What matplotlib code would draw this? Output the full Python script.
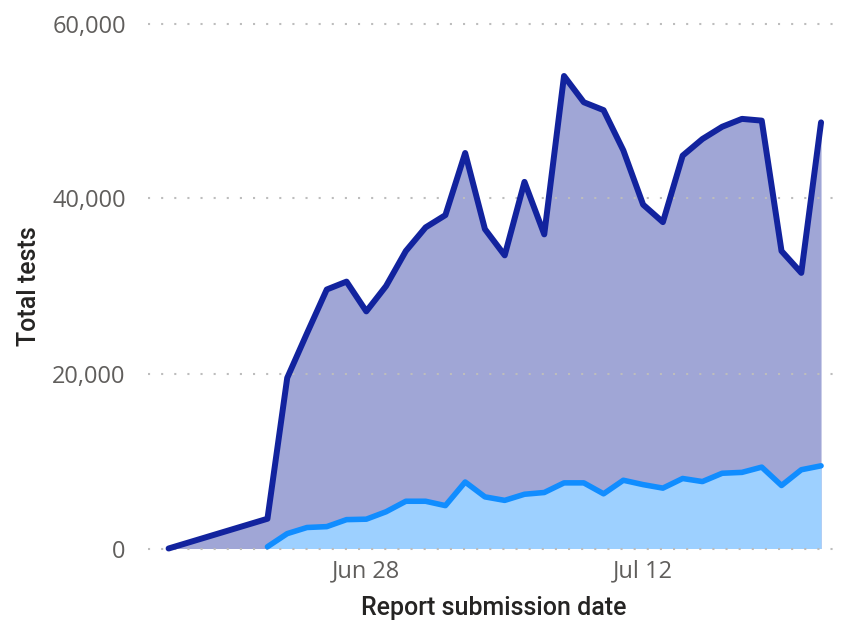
import matplotlib
matplotlib.use("Agg")
import matplotlib.pyplot as plt
import pandas as pd
from matplotlib.ticker import FuncFormatter

# data
total_dates = ["2020-06-18"] + [str(d.date()) for d in pd.date_range("2020-06-23", "2020-07-21")]
total_tests = [0, 3400, 19500, 24600, 29600, 30500, 27100, 30000, 34000, 36700,
               38100, 45200, 36500, 33500, 41900, 35900, 54000, 51000, 50100, 45500,
               39300, 37300, 44900, 46800, 48200, 49100, 48900, 34000, 31500, 48700]

pos_dates = [str(d.date()) for d in pd.date_range("2020-06-23", "2020-07-21")]
pos_tests = [200, 1700, 2400, 2500, 3300, 3350, 4200, 5400, 5400, 4900,
             7600, 5900, 5500, 6200, 6400, 7500, 7500, 6250, 7800, 7300,
             6900, 8000, 7650, 8600, 8700, 9300, 7200, 9000, 9450]

tick_dates = ["2020-06-28", "2020-07-12"]
tick_labels = ["Jun 28", "Jul 12"]
y_ticks = [0, 20000, 40000, 60000]

dark_line = "#12239E"
dark_fill = "#A0A6D6"
light_line = "#118DFF"
light_fill = "#9DD0FF"
label_grey = "#605E5C"
title_col = "#252423"

x1 = pd.to_datetime(total_dates)
x2 = pd.to_datetime(pos_dates)

fig = plt.figure(figsize=(8.57, 6.26), dpi=100)
ax = fig.add_axes([148 / 857, 1 - 548.5 / 626, 692 / 857, 525 / 626])

ax.fill_between(x1, 0, total_tests, color=dark_fill, lw=0, zorder=1)
ax.fill_between(x2, 0, pos_tests, color=light_fill, lw=0, zorder=1.5)
ax.plot(x1, total_tests, color=dark_line, lw=4.3, solid_joinstyle="round",
        solid_capstyle="round", zorder=4, clip_on=False)
ax.plot(x2, pos_tests, color=light_line, lw=4.0, solid_joinstyle="round",
        solid_capstyle="round", zorder=5, clip_on=False)

ax.set_ylim(0, 60000)
ax.set_xlim(pd.Timestamp("2020-06-16 23:00"), pd.Timestamp("2020-07-21 23:00"))
ax.set_yticks(y_ticks)
ax.yaxis.set_major_formatter(FuncFormatter(lambda v, p: f"{int(v):,}"))
ax.set_xticks(pd.to_datetime(tick_dates))
ax.set_xticklabels(tick_labels)

for v in y_ticks:
    ax.axhline(v, color="#BDBDBD", lw=1.5, dashes=(1, 5.3), zorder=2.5, clip_on=False)

for s in ax.spines.values():
    s.set_visible(False)
ax.tick_params(length=0)
ax.tick_params(axis="y", pad=16, labelsize=17, labelcolor=label_grey)
ax.tick_params(axis="x", pad=8, labelsize=17, labelcolor=label_grey)
for t in ax.get_xticklabels() + ax.get_yticklabels():
    t.set_family("Open Sans")

ax.set_xlabel("Report submission date", family="Roboto", fontsize=18,
              fontweight="medium", color=title_col, labelpad=9)
ax.set_ylabel("Total tests", family="Roboto", fontsize=18,
              fontweight="medium", color=title_col, labelpad=8)

fig.savefig("out.png", dpi=100)
